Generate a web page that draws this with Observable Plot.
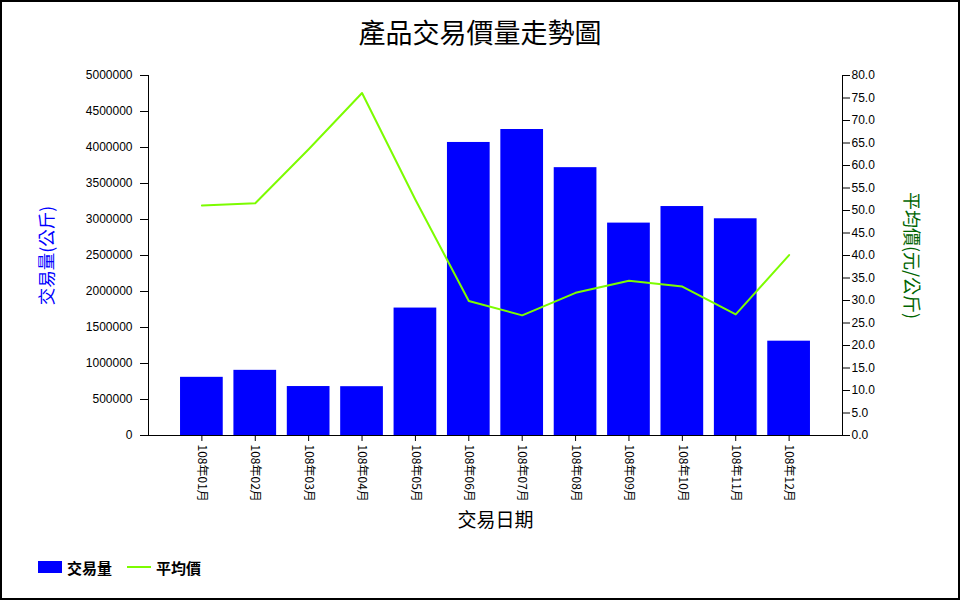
<!DOCTYPE html>
<html>
<head>
<meta charset="utf-8">
<script src="https://cdn.jsdelivr.net/npm/d3@7"></script>
<script src="https://cdn.jsdelivr.net/npm/@observablehq/plot@0.6"></script>
<style>
  html, body { margin: 0; padding: 0; background: white; }
  #wrap { position: relative; width: 960px; height: 600px; overflow: hidden; background: white; }
  #wrap > svg { position: absolute; left: 0; top: 0; }
  #border { position: absolute; left: 0; top: 0; width: 960px; height: 600px; box-sizing: border-box; border: 2px solid #000; pointer-events: none; z-index: 10; }
  #title { position: absolute; left: 0; top: 12px; width: 960px; text-align: center; line-height: 40px; font-family: "Noto Sans CJK TC", sans-serif; font-size: 27px; color: #000; z-index: 5; }
  #legend { position: absolute; left: 38px; top: 557px; height: 20px; font-family: "Noto Sans CJK TC", sans-serif; font-size: 15px; font-weight: bold; display: flex; align-items: center; z-index: 5; }
  .sw-bar { width: 24px; height: 12px; background: #0000ff; margin-right: 5px; }
  .sw-line { width: 24px; height: 2px; background: #7cfc00; margin-right: 5px; margin-left: 15px; }
</style>
</head>
<body>
<div id="wrap">
  <div id="title"></div>
  <div id="legend"></div>
  <div id="border"></div>
</div>
<script>
const title = "產品交易價量走勢圖";
const months = ["108年01月","108年02月","108年03月","108年04月","108年05月","108年06月","108年07月","108年08月","108年09月","108年10月","108年11月","108年12月"];
const volumes = [808000, 905000, 680000, 678000, 1770000, 4070000, 4250000, 3720000, 2950000, 3180000, 3010000, 1310000];
const prices = [51.1, 51.6, 63.6, 76.1, 52.4, 29.9, 26.7, 31.7, 34.4, 33.1, 26.9, 40.1];
const volumeTicks = [0, 500000, 1000000, 1500000, 2000000, 2500000, 3000000, 3500000, 4000000, 4500000, 5000000];
const priceTicks = [0, 5, 10, 15, 20, 25, 30, 35, 40, 45, 50, 55, 60, 65, 70, 75, 80];
const yLabelLeft = "交易量(公斤)";
const yLabelRight = "平均價(元/公斤)";
const xLabel = "交易日期";
const seriesNames = ["交易量", "平均價"];

const data = months.map((m, i) => ({month: m, volume: volumes[i], price: prices[i]}));

const common = {
  width: 960, height: 600,
  marginLeft: 148, marginRight: 118, marginTop: 75, marginBottom: 165
};
const font = '"Liberation Sans", Arial, "Noto Sans CJK TC", sans-serif';
const cjk = '"Noto Sans CJK TC", sans-serif';

const p1 = Plot.plot({
  ...common,
  style: {fontFamily: font, fontSize: "12px", color: "#000", background: "white"},
  x: {type: "band", domain: months, paddingInner: 0.2, paddingOuter: 0.6, round: false, label: null},
  y: {domain: [0, 5000000], label: null},
  marks: [
    Plot.barY(data, {x: "month", y: "volume", fill: "#0000ff"}),
    Plot.ruleY([0], {stroke: "#000"}),
    Plot.frame({anchor: "left", stroke: "#000"}),
    Plot.axisY({ticks: volumeTicks, tickFormat: d => String(d), tickSize: 8, tickPadding: 8, label: null, fontSize: 12, stroke: "#000"}),
    Plot.axisX({tickRotate: 90, tickSize: 6, tickPadding: 3, label: null, fontSize: 12, fontFamily: cjk, stroke: "#000"}),
    Plot.text([yLabelLeft], {frameAnchor: "left", dx: -101, rotate: -90, textAnchor: "middle", lineAnchor: "middle", fill: "#0000ff", fontSize: 17.5, fontFamily: cjk}),
    Plot.text([xLabel], {frameAnchor: "bottom", dy: 85, textAnchor: "middle", lineAnchor: "middle", fill: "#000", fontSize: 19, fontFamily: cjk})
  ]
});

const p2 = Plot.plot({
  ...common,
  style: {fontFamily: font, fontSize: "12px", color: "#000", background: "transparent"},
  x: {type: "point", domain: months, padding: 1, round: false, axis: null},
  y: {domain: [0, 80], label: null, axis: null},
  marks: [
    Plot.line(data, {x: "month", y: "price", stroke: "#7cfc00", strokeWidth: 2}),
    Plot.frame({anchor: "right", stroke: "#000"}),
    Plot.axisY({anchor: "right", ticks: priceTicks, tickFormat: d3.format(".1f"), tickSize: 7, tickPadding: 2, label: null, fontSize: 12, stroke: "#000"}),
    Plot.text([yLabelRight], {frameAnchor: "right", dx: 68, rotate: 90, textAnchor: "middle", lineAnchor: "middle", fill: "#006400", fontSize: 18, fontFamily: cjk})
  ]
});

const wrap = document.getElementById("wrap");
wrap.insertBefore(p2, wrap.firstChild);
wrap.insertBefore(p1, wrap.firstChild);

document.getElementById("title").textContent = title;
const legend = document.getElementById("legend");
legend.innerHTML = `<div class="sw-bar"></div><span>${seriesNames[0]}</span><div class="sw-line"></div><span>${seriesNames[1]}</span>`;
</script>
</body>
</html>
